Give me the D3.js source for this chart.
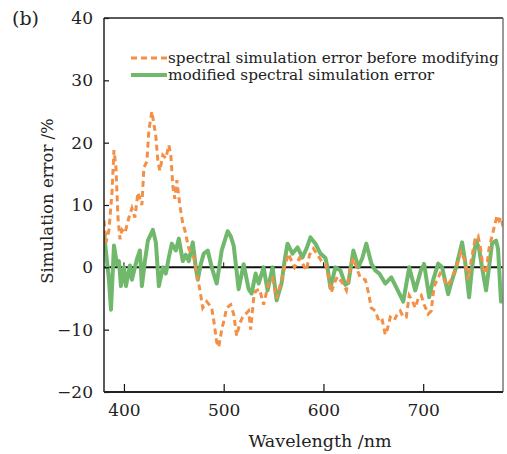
<!DOCTYPE html>
<html>
<head>
<meta charset="utf-8">
<script src="https://cdn.jsdelivr.net/npm/d3@7"></script>
<style>
body { margin: 0; background: #fff; }
svg text { font-family: "DejaVu Serif", "Liberation Serif", "Times New Roman", serif; fill: #222; }
</style>
</head>
<body>
<svg id="svgmain" width="507" height="454"></svg>
<script>
// wavelength (nm) and error (%)
var beforeWl = [380,382,385,388,390,392,394,396,398,401,405,408,411,414,416,418,420,423,425,428,430,432,434,436,439,442,445,447,449,451,453,456,459,461,465,470,473,476,479,483,488,490,493,495,498,501,503,507,510,513,516,519,522,525,527,530,532,536,540,545,549,553,558,561,565,568,571,576,583,586,590,594,598,602,605,608,611,614,619,623,627,630,633,637,642,645,648,652,656,659,662,664,667,671,674,677,680,683,686,689,692,695,698,701,705,708,711,714,717,721,724,728,733,738,742,745,748,752,755,757,760,763,766,769,772,774,776,778,780]
var beforeErr = [7.5,4,6,12,18.8,16,8,4.5,6,5.5,8,9.5,8,12,11,10,16,17,22,25,23,21,17,15.5,18,17.5,19.6,18,13,11,14,10,7,6,3,1.6,-1,-3.5,-6.5,-5.5,-6.5,-8.5,-12,-12.8,-10,-8,-6.5,-6,-7.5,-11,-9,-8,-7.5,-7,-10,-5,-3.8,-3.5,-6,-2.5,-1.8,-5,-2,0,2.2,1,0,1.5,-0.5,2,3,2,1,0.5,-1.5,-4,-2.5,-1.5,-2.5,-3.7,0,1.5,0,-1.7,-2,-4,-6.5,-7,-8.8,-8.5,-10.8,-10,-8,-8.5,-7.5,-7,-8,-8,-4.5,-5.3,-6.5,-5,-4.5,-6,-7.5,-7,-3,-2,-1,-2,-3,-2,0,2.5,1,-2,1,4.5,5,3.5,0,-1,3,5,7,8.3,7.5,8,6.5]

var modWl = [380,383,385,387,390,393,395,397,400,402,406,408,411,413,416,418,421,424,429,432,435,439,442,445,448,452,455,459,462,465,469,472,474,477,480,484,488,493,498,504,507,510,515,520,525,528,532,535,540,544,549,553,558,561,564,569,574,579,583,587,592,597,602,604,607,612,617,622,625,630,635,639,643,648,652,656,662,668,673,677,680,686,692,698,701,706,710,715,719,725,729,733,739,742,746,749,753,756,759,763,766,769,773,775,778,780]
var modErr = [5.5,1,-2,-6.8,3.5,0.5,1,-3,0,-3,0.3,-2,0,1.3,2.7,-3,1,4.3,6,4,-3,0,-1,1.6,3.8,2.7,4.6,1,2,1,4,0,-2,0.5,2.2,2.7,0,-2.6,2.7,5.8,5,3.5,-3.5,0.5,-3.5,-4.2,-1,-2.6,0,-3.7,0,-5.3,-2.6,1,3.8,2.2,3.2,1.6,3,4.8,3.8,2.2,1.5,0,-3.3,0,-0.5,-2.8,-2.5,2.7,0,1.5,3.8,0.6,-0.5,-1,-2.6,-1.6,-3.2,-4.5,-5.5,0,-3.7,-0.3,0.5,-4.8,-2,0.6,0,-4.3,-2,0,4,1,-4.8,0,4.3,3,0,-3.7,0,3.8,4.3,3,-5.5,-5]

var xTicks = [400, 500, 600, 700]
var yTicks = [-20, -10, 0, 10, 20, 30, 40]
var legendLabels = ["spectral simulation error before modifying", "modified spectral simulation error"]

var orange = "#f39047"
var green = "#6fb86c"

var svg = d3.select("#svgmain")
var pLeft = 104, pRight = 503, pTop = 18, pBottom = 392

var x = d3.scaleLinear().domain([380, 780]).range([pLeft, pRight])
var y = d3.scaleLinear().domain([-20, 40]).range([pBottom, pTop])

var before = beforeWl.map(function(w, i) { return [w, beforeErr[i]] })
var modified = modWl.map(function(w, i) { return [w, modErr[i]] })

var line = d3.line()
    .x(function(d) { return x(d[0]) })
    .y(function(d) { return y(d[1]) })

var clip = svg.append("clipPath").attr("id", "plotclip")
clip.append("rect").attr("x", pLeft).attr("y", pTop).attr("width", pRight - pLeft).attr("height", pBottom - pTop)

var plot = svg.append("g").attr("clip-path", "url(#plotclip)")

// zero line with little ticks
plot.append("line")
    .attr("x1", pLeft).attr("x2", pRight)
    .attr("y1", y(0)).attr("y2", y(0))
    .attr("stroke", "#111").attr("stroke-width", 2)
plot.selectAll(".zerotick").data(xTicks).enter().append("line")
    .attr("class", "zerotick")
    .attr("x1", x).attr("x2", x)
    .attr("y1", y(0)).attr("y2", y(0) - 5)
    .attr("stroke", "#111").attr("stroke-width", 1)

plot.append("path").datum(modified)
    .attr("d", line)
    .attr("fill", "none")
    .attr("stroke", green)
    .attr("stroke-width", 4)
    .attr("stroke-linejoin", "round")

plot.append("path").datum(before)
    .attr("d", line)
    .attr("fill", "none")
    .attr("stroke", orange)
    .attr("stroke-width", 3)
    .attr("stroke-dasharray", "6,4")

// axes, ticks pointing in
var xAxis = d3.axisBottom(x).tickValues(xTicks).tickSizeInner(-8).tickSizeOuter(0).tickPadding(11)
var yAxis = d3.axisLeft(y).tickValues(yTicks).tickSizeInner(-5).tickSizeOuter(0).tickPadding(11)
    .tickFormat(function(d) { return d < 0 ? "\u2212" + Math.abs(d) : d })

var gx = svg.append("g").attr("transform", "translate(0," + pBottom + ")").call(xAxis)
var gy = svg.append("g").attr("transform", "translate(" + pLeft + ",0)").call(yAxis)
gx.select(".domain").remove()
gy.select(".domain").remove()
svg.selectAll(".tick line").attr("stroke", "#111").attr("stroke-width", 1.2)
svg.selectAll(".tick text").attr("font-family", null).attr("font-size", 17).attr("fill", "#222")
gx.selectAll(".tick text").attr("dy", "0.75em")

// frame
svg.append("line").attr("x1", pLeft).attr("x2", pRight).attr("y1", pTop).attr("y2", pTop).attr("stroke", "#222").attr("stroke-width", 1.5)
svg.append("line").attr("x1", pRight).attr("x2", pRight).attr("y1", pTop).attr("y2", pBottom).attr("stroke", "#777").attr("stroke-width", 1.5)
svg.append("line").attr("x1", pLeft).attr("x2", pLeft).attr("y1", pTop).attr("y2", pBottom).attr("stroke", "#222").attr("stroke-width", 1.5)
svg.append("line").attr("x1", pLeft).attr("x2", pRight).attr("y1", pBottom).attr("y2", pBottom).attr("stroke", "#222").attr("stroke-width", 2)

svg.append("text").attr("x", 320).attr("y", 447)
    .attr("text-anchor", "middle").attr("font-size", 17.5)
    .text("Wavelength /nm")
svg.append("text")
    .attr("transform", "translate(53,201) rotate(-90)")
    .attr("text-anchor", "middle").attr("font-size", 16.5)
    .text("Simulation error /%")
svg.append("text").attr("x", 12).attr("y", 25).attr("font-size", 19).text("(b)")

// legend
var legend = svg.append("g")
legendLabels.forEach(function(label, i) {
    var ly = 58 + i * 17
    legend.append("line")
        .attr("x1", 131).attr("x2", 167).attr("y1", ly).attr("y2", ly)
        .attr("stroke", i == 0 ? orange : green)
        .attr("stroke-width", i == 0 ? 3 : 4)
        .attr("stroke-dasharray", i == 0 ? "6,4" : null)
    legend.append("text")
        .attr("x", 168).attr("y", ly + 5)
        .attr("font-size", 15.3)
        .text(label)
})
</script>
</body>
</html>
